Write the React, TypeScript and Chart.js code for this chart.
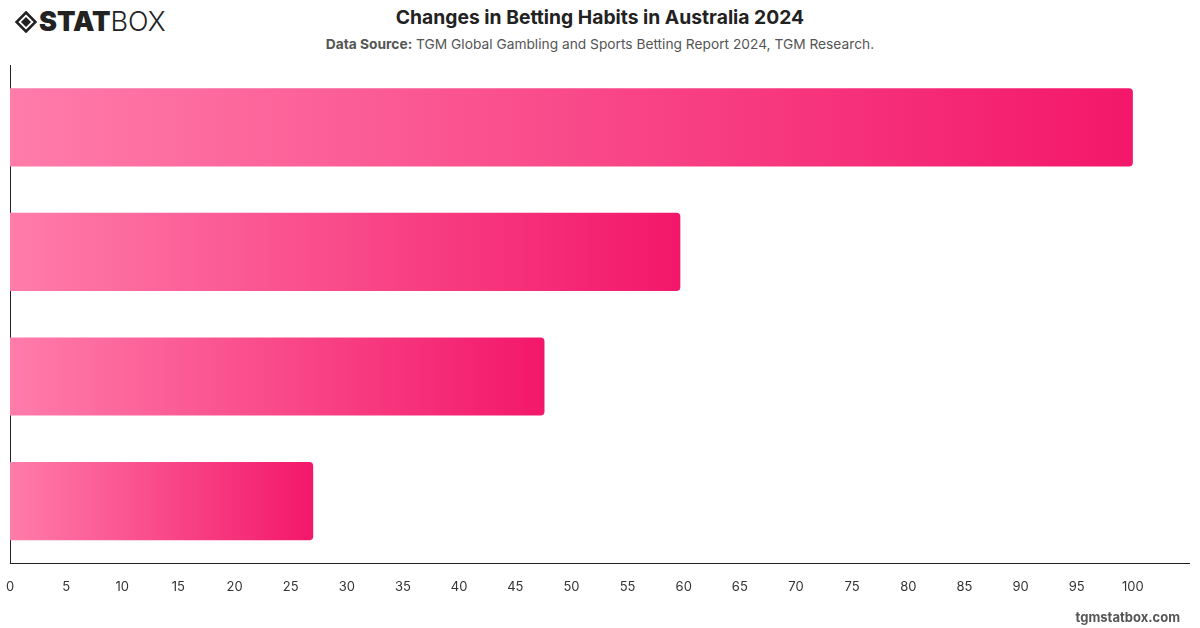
import React, { useEffect, useRef } from "react";
import { Chart, registerables } from "chart.js";

Chart.register(...registerables);

// Survey categories (labels are not shown on the axis) and their values
const categories = ["Habit 1", "Habit 2", "Habit 3", "Habit 4"];
const values = [100, 59.7, 47.6, 27.0];

// Value axis range and spacing
const axisMin = 0;
const axisMax = 105;
const axisStep = 5;
const lastShownTick = 100;

const GRAD_START = "#ff7ca9";
const GRAD_END = "#f3176a";
const FONT = "Inter, 'Noto Sans', sans-serif";

function Logo() {
  return (
    <div
      style={{
        position: "absolute",
        left: 15,
        top: 8,
        display: "flex",
        alignItems: "center",
        fontFamily: FONT,
        color: "#222",
        lineHeight: 1,
      }}
    >
      <svg width="22" height="22" viewBox="0 0 22 22" style={{ marginRight: 2 }}>
        <path d="M11 1.5 L20.5 11 L11 20.5 L1.5 11 Z" fill="none" stroke="#222" strokeWidth="2.6" strokeLinejoin="miter" />
        <path d="M11 6 L16 11 L11 16 L6 11 Z" fill="#222" />
      </svg>
      <span style={{ fontSize: 27, fontWeight: 900, letterSpacing: 0 }}>STAT</span>
      <span style={{ fontSize: 27, fontWeight: 300, letterSpacing: 0 }}>BOX</span>
    </div>
  );
}

export default function App() {
  const canvasRef = useRef<HTMLCanvasElement | null>(null);

  useEffect(() => {
    document.body.style.margin = "0";
    const canvas = canvasRef.current;
    if (!canvas) return;

    const chart = new Chart(canvas, {
      type: "bar",
      data: {
        labels: categories,
        datasets: [
          {
            data: values,
            backgroundColor: (ctx: any) => {
              const c = ctx.chart;
              if (!c.chartArea || ctx.type !== "data") return GRAD_END;
              const xs = c.scales.x;
              const x0 = xs.getPixelForValue(0);
              const x1 = xs.getPixelForValue(ctx.raw as number);
              if (!isFinite(x0) || !isFinite(x1) || x1 <= x0) return GRAD_END;
              const g = c.ctx.createLinearGradient(x0, 0, x1, 0);
              g.addColorStop(0, GRAD_START);
              g.addColorStop(1, GRAD_END);
              return g;
            },
            borderWidth: 0,
            borderRadius: 4,
            borderSkipped: "start",
            barPercentage: 0.785,
            categoryPercentage: 0.8,
          },
        ],
      },
      options: {
        indexAxis: "y",
        responsive: false,
        maintainAspectRatio: false,
        animation: false,
        layout: { padding: { top: 65, left: 10, right: 11, bottom: 31 } },
        plugins: {
          legend: { display: false },
          tooltip: { enabled: false },
          title: { display: false },
        },
        scales: {
          x: {
            min: axisMin,
            max: axisMax,
            // tick marks are not drawn, but their length keeps the labels clear of the axis line
            grid: { display: false, drawTicks: true, tickLength: 14 },
            border: { display: true, color: "#222", width: 1 },
            ticks: {
              stepSize: axisStep,
              padding: 2,
              color: "#333",
              font: { family: FONT, size: 13 },
              maxRotation: 0,
              autoSkip: false,
              callback: (v: any) => (Number(v) <= lastShownTick ? String(v) : ""),
            },
          },
          y: {
            grid: { display: false, drawTicks: false },
            border: { display: true, color: "#222", width: 1 },
            ticks: { display: false },
          },
        },
      },
    });

    return () => chart.destroy();
  }, []);

  return (
    <div
      style={{
        position: "absolute",
        left: 0,
        top: 0,
        width: 1200,
        height: 628,
        background: "#fff",
        overflow: "hidden",
        fontFamily: FONT,
      }}
    >
      <Logo />
      <div
        style={{
          position: "absolute",
          top: 5,
          left: 0,
          width: 1200,
          textAlign: "center",
          fontSize: 19.3,
          fontWeight: 700,
          color: "#222",
          lineHeight: "24px",
        }}
      >
        Changes in Betting Habits in Australia 2024
      </div>
      <div
        style={{
          position: "absolute",
          top: 36,
          left: 0,
          width: 1200,
          textAlign: "center",
          fontSize: 13.75,
          color: "#555",
          lineHeight: "17px",
        }}
      >
        <span style={{ fontWeight: 700 }}>Data Source:</span> TGM Global Gambling and Sports Betting Report 2024, TGM Research.
      </div>
      <canvas
        ref={canvasRef}
        width={1200}
        height={628}
        style={{ position: "absolute", left: 0, top: 0, width: 1200, height: 628 }}
      />
      <div
        style={{
          position: "absolute",
          right: 20,
          top: 609,
          fontSize: 13,
          fontWeight: 700,
          color: "#555",
          lineHeight: "16px",
        }}
      >
        tgmstatbox.com
      </div>
    </div>
  );
}
